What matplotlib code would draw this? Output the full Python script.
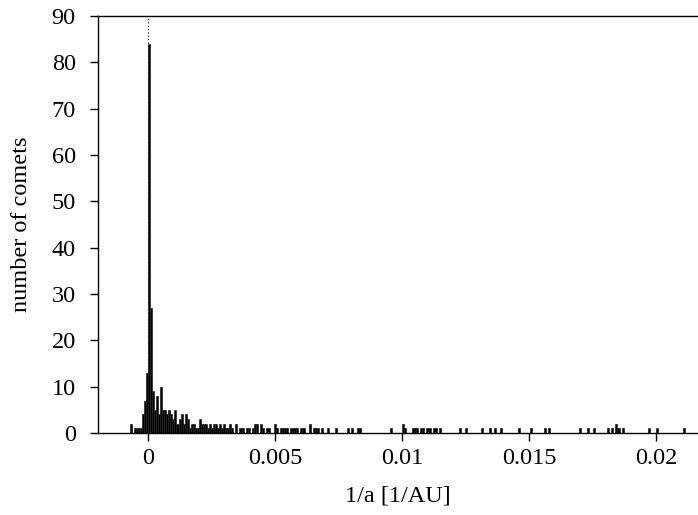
import matplotlib
matplotlib.use("Agg")
import matplotlib.pyplot as plt
import numpy as np

# ---- data ----
bin_width = 0.00008
core_start = -0.00072          # left edge of first core bin (1/AU)
core_counts = [2, 0, 1, 1, 1, 1, 4, 7, 13, 84, 27, 9, 5, 8, 4, 10, 5, 5, 4, 5,
               4, 3, 5, 2, 3, 4, 2, 4, 3, 1, 2, 2, 1, 1, 3, 2, 2, 2, 1, 2,
               1, 2, 2, 1, 2, 1, 2, 1, 1, 2, 1, 0, 2, 0, 1, 1, 0, 1, 1, 0,
               1, 2, 2, 0, 2, 1, 0, 1, 1, 0, 0, 2, 1, 0, 1, 1, 1, 1, 0, 1,
               1, 1, 1, 0, 1, 1]
tail_edges = [0.00632, 0.00648, 0.00656, 0.00664, 0.0068, 0.00704, 0.00736,
              0.00784, 0.008, 0.00824, 0.00832, 0.00952, 0.01, 0.01008,
              0.0104, 0.01048, 0.01056, 0.01072, 0.0108, 0.01096, 0.01104,
              0.0112, 0.01128, 0.01144, 0.01224, 0.01248, 0.01312, 0.01344,
              0.0136, 0.01384, 0.01456, 0.01504, 0.0156, 0.01576, 0.01696,
              0.01728, 0.01752, 0.01808, 0.01824, 0.0184, 0.01848, 0.01864,
              0.01968, 0.02, 0.02104]
tail_counts = [2, 1, 1, 1, 1, 1, 1, 1, 1, 1, 1, 1, 2, 1, 1, 1, 1, 1, 1, 1, 1,
               1, 1, 1, 1, 1, 1, 1, 1, 1, 1, 1, 1, 1, 1, 1, 1, 1, 1, 2, 1, 1,
               1, 1, 1]
xtick_values = [0, 0.005, 0.01, 0.015, 0.02]
xtick_labels = ["0", "0.005", "0.01", "0.015", "0.02"]
ytick_values = [0, 10, 20, 30, 40, 50, 60, 70, 80, 90]

core_edges = core_start + bin_width * np.arange(len(core_counts))
edges = np.concatenate([core_edges, tail_edges])
counts = np.concatenate([core_counts, tail_counts])
mask = counts > 0

plt.rcParams['font.family'] = ['Liberation Serif', 'DejaVu Serif']
FS = 17.5

fig = plt.figure(figsize=(6.98, 5.15), dpi=100)
ax = fig.add_axes([98/698, 1 - 433/515, 1 - 98/698, (433 - 16)/515])

ax.axvline(0, color='black', linestyle=(0, (1, 2)), linewidth=0.8, zorder=1)
ax.bar(edges[mask], counts[mask], width=bin_width, align='edge',
       color='black', edgecolor='#222222', linewidth=0.5, zorder=2)

ax.set_xlim(-0.00197, 0.02165)
ax.set_ylim(0, 90)
ax.set_xticks(xtick_values)
ax.set_xticklabels(xtick_labels)
ax.set_yticks(ytick_values)
ax.tick_params(axis='both', direction='out', length=6, width=1,
               labelsize=FS)
ax.tick_params(axis='x', pad=5)
ax.tick_params(axis='y', pad=10)
ax.spines['right'].set_visible(False)
for s in ['left', 'top', 'bottom']:
    ax.spines[s].set_linewidth(1)

ax.set_xlabel('1/a [1/AU]', fontsize=FS, labelpad=12)
ax.set_ylabel('number of comets', fontsize=FS, labelpad=14)

fig.savefig('out.png', dpi=100)
